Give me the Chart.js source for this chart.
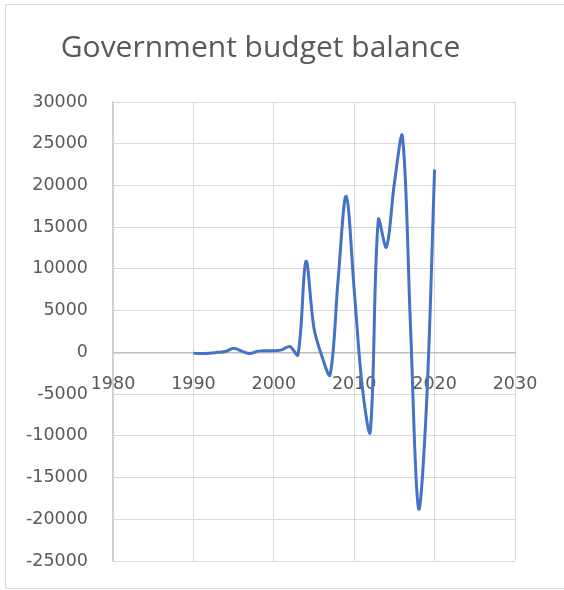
<!DOCTYPE html>
<html>
<head>
<meta charset="utf-8">
<script src="https://cdn.jsdelivr.net/npm/chart.js@4/dist/chart.umd.min.js"></script>
<style>
  html, body { margin:0; padding:0; background:#fff; overflow:hidden; }
  canvas { display:block; }
</style>
</head>
<body>
<canvas id="chart" width="564" height="590"></canvas>
<script>
const YEARS = [1990,1991,1992,1993,1994,1995,1996,1997,1998,1999,2000,2001,2002,2003,2004,2005,2006,2007,2008,2009,2010,2011,2012,2013,2014,2015,2016,2017,2018,2019,2020];
const BALANCE = [-100,-150,-100,0,100,500,150,-150,150,200,200,300,700,-300,10900,2900,-500,-2700,8700,18700,7500,-4100,-9500,15900,12600,20300,25900,3200,-18700,-6100,21900];
const X_TICKS = [1980, 2030, 10];
const Y_TICKS = [-25000, 30000, 5000];

const grey = "#595959";
const tickFont = { family:"DejaVu Sans", size:17.5 };

// light outer frame like the Excel chart object (left, top, bottom edges)
const framePlugin = {
  id:"frame",
  beforeDraw(chart){
    const c = chart.ctx;
    c.save();
    c.strokeStyle = "#d9d9d9";
    c.lineWidth = 1;
    c.beginPath();
    c.moveTo(chart.width, 4.5); c.lineTo(5.5, 4.5); c.lineTo(5.5, 588.5); c.lineTo(chart.width, 588.5);
    c.stroke();
    c.restore();
  }
};

// labels may overflow the plot area, the layout padding already leaves room
const noPad = s => { s.paddingTop = 0; s.paddingBottom = 0; };

new Chart(document.getElementById("chart"), {
  type:"scatter",
  data:{
    datasets:[{
      data: YEARS.map((y,i)=>({ x:y, y:BALANCE[i] })),
      showLine:true,
      borderColor:"#4472C4",
      borderWidth:3,
      pointRadius:0,
      tension:0.35
    }]
  },
  options:{
    responsive:false,
    animation:false,
    devicePixelRatio:1,
    layout:{ autoPadding:false, padding:{ left:6, right:49, top:0, bottom:29 } },
    plugins:{
      legend:{ display:false },
      tooltip:{ enabled:false },
      title:{
        display:true,
        text:"Government budget balance",
        color:grey,
        font:{ family:"Open Sans", size:30, weight:"normal" },
        padding:{ top:30, bottom:36 }
      }
    },
    scales:{
      x:{
        type:"linear",
        position:{ y:0 },
        min:X_TICKS[0], max:X_TICKS[1],
        ticks:{ stepSize:X_TICKS[2], color:grey, font:tickFont, padding:22, maxRotation:0, callback:v=>String(v) },
        grid:{ color:"#d9d9d9", drawTicks:false },
        border:{ color:"#bfbfbf", width:1.5 },
        afterFit:noPad
      },
      y:{
        min:Y_TICKS[0], max:Y_TICKS[1],
        ticks:{ stepSize:Y_TICKS[2], color:grey, font:tickFont, padding:25, callback:v=>String(v) },
        grid:{ color:"#d9d9d9", drawTicks:false },
        border:{ color:"#d0d0d0", width:1.5 },
        afterFit:s=>{ s.width = 107; noPad(s); }
      }
    }
  },
  plugins:[framePlugin]
});
</script>
</body>
</html>
